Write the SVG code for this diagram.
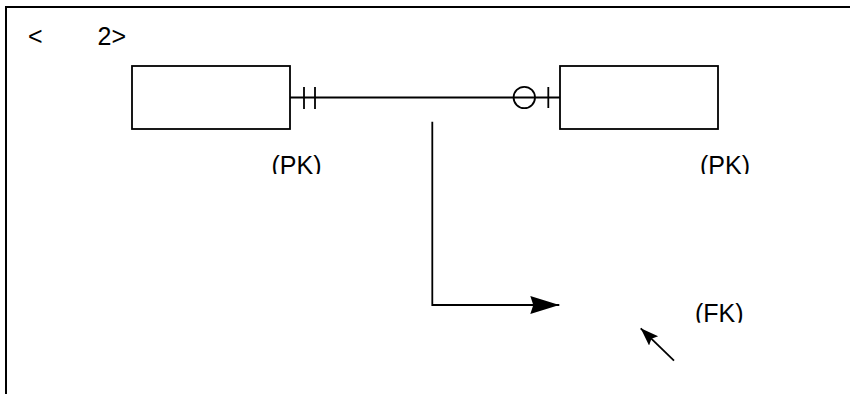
<svg xmlns="http://www.w3.org/2000/svg" width="850" height="394" viewBox="0 0 850 394">
  <style>
    .ln{stroke:#000;stroke-width:1.8;fill:none}
    .box{stroke:#000;stroke-width:1.8;fill:#fff}
    .t{font-family:"Liberation Sans",Arial,sans-serif;font-size:25px;fill:#000}
  </style>
  <defs>
    <marker id="ah" markerUnits="userSpaceOnUse" markerWidth="30" markerHeight="20" refX="29" refY="9" orient="auto">
      <path d="M29,9 L0,0 L3,9 L0,18 Z" fill="#000"/>
    </marker>
    <marker id="ahs" markerUnits="userSpaceOnUse" markerWidth="20" markerHeight="14" refX="18" refY="6.5" orient="auto">
      <path d="M18,6.5 L0,0 L3,6.5 L0,13 Z" fill="#000"/>
    </marker>
    <clipPath id="c1"><rect x="0" y="0" width="850" height="174"/></clipPath>
    <clipPath id="c2"><rect x="0" y="0" width="850" height="322.7"/></clipPath>
  </defs>
  <rect width="850" height="394" fill="#fff"/>
  <path d="M6,394 L6,7 L850,7" stroke="#000" stroke-width="2" fill="none"/>
  <g id="title">
    <text class="t" x="28" y="44.5">&lt;</text>
    <text class="t" x="97.5" y="44.5">2&gt;</text>
  </g>
  <g id="entity-left">
    <rect class="box" x="132" y="66" width="158" height="63"/>
    <text class="t" x="271.5" y="173.5" clip-path="url(#c1)">(PK)</text>
  </g>
  <g id="entity-right">
    <rect class="box" x="560" y="66" width="158" height="63"/>
    <text class="t" x="700" y="173.5" clip-path="url(#c1)">(PK)</text>
  </g>
  <g id="fk-label">
    <text class="t" x="695" y="321.5" clip-path="url(#c2)">(FK)</text>
  </g>
  <g id="connectors">
    <line class="ln" x1="290" y1="97.5" x2="560" y2="97.5"/>
    <line class="ln" x1="304" y1="87" x2="304" y2="109"/>
    <line class="ln" x1="315" y1="87" x2="315" y2="109"/>
    <circle class="ln" cx="524.3" cy="97.5" r="10.7" fill="#fff"/>
    <line class="ln" x1="548.3" y1="87" x2="548.3" y2="108"/>
    <path class="ln" d="M432.3,121.7 L432.3,305 L559.3,305" marker-end="url(#ah)"/>
    <line class="ln" x1="674" y1="360.7" x2="640.7" y2="328.3" marker-end="url(#ahs)"/>
  </g>
</svg>
